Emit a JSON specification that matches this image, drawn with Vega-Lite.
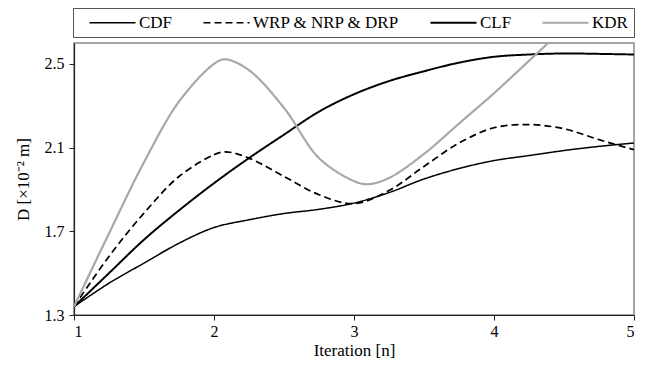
{
  "$schema": "https://vega.github.io/schema/vega-lite/v6.json",
  "width": 560,
  "height": 272,
  "autosize": {"type": "none"},
  "padding": {"left": 74, "top": 43, "right": 11, "bottom": 50},
  "background": "white",
  "config": {
    "view": {"stroke": "#888888", "strokeWidth": 1.5},
    "font": "Liberation Serif",
    "axis": {"labelFont": "Liberation Serif", "titleFont": "Liberation Serif", "labelColor": "black", "titleColor": "black", "labelFontSize": 16, "titleFontSize": 17, "titleFontWeight": "normal", "grid": false, "domainColor": "#222222", "tickColor": "#222222", "tickSize": 5, "domainWidth": 1.2},
    "legend": {"orient": "none", "legendX": -1, "legendY": -35, "direction": "horizontal", "symbolType": "M1,0H24", "symbolSize": 16, "labelFont": "Liberation Serif", "labelFontSize": 17, "labelColor": "black", "strokeColor": "#555555", "padding": 6, "columnPadding": 20, "labelOffset": 43}
  },
  "data": {
    "values": [
      {"series": "CDF", "n": 1.0, "D": 1.34},
      {"series": "CDF", "n": 1.25, "D": 1.452},
      {"series": "CDF", "n": 1.5, "D": 1.548},
      {"series": "CDF", "n": 1.75, "D": 1.643},
      {"series": "CDF", "n": 2.0, "D": 1.718},
      {"series": "CDF", "n": 2.25, "D": 1.755},
      {"series": "CDF", "n": 2.5, "D": 1.785},
      {"series": "CDF", "n": 2.75, "D": 1.805},
      {"series": "CDF", "n": 3.0, "D": 1.835},
      {"series": "CDF", "n": 3.25, "D": 1.885},
      {"series": "CDF", "n": 3.5, "D": 1.95},
      {"series": "CDF", "n": 3.75, "D": 2.0},
      {"series": "CDF", "n": 4.0, "D": 2.038},
      {"series": "CDF", "n": 4.25, "D": 2.062},
      {"series": "CDF", "n": 4.5, "D": 2.086},
      {"series": "CDF", "n": 4.75, "D": 2.106},
      {"series": "CDF", "n": 5.0, "D": 2.122},
      {"series": "WRP & NRP & DRP", "n": 1.0, "D": 1.34},
      {"series": "WRP & NRP & DRP", "n": 1.25, "D": 1.58},
      {"series": "WRP & NRP & DRP", "n": 1.5, "D": 1.787},
      {"series": "WRP & NRP & DRP", "n": 1.75, "D": 1.962},
      {"series": "WRP & NRP & DRP", "n": 2.0, "D": 2.066},
      {"series": "WRP & NRP & DRP", "n": 2.08, "D": 2.08},
      {"series": "WRP & NRP & DRP", "n": 2.25, "D": 2.05},
      {"series": "WRP & NRP & DRP", "n": 2.5, "D": 1.962},
      {"series": "WRP & NRP & DRP", "n": 2.75, "D": 1.875},
      {"series": "WRP & NRP & DRP", "n": 3.0, "D": 1.832},
      {"series": "WRP & NRP & DRP", "n": 3.25, "D": 1.895},
      {"series": "WRP & NRP & DRP", "n": 3.5, "D": 2.01},
      {"series": "WRP & NRP & DRP", "n": 3.75, "D": 2.122},
      {"series": "WRP & NRP & DRP", "n": 4.0, "D": 2.195},
      {"series": "WRP & NRP & DRP", "n": 4.25, "D": 2.21},
      {"series": "WRP & NRP & DRP", "n": 4.5, "D": 2.19},
      {"series": "WRP & NRP & DRP", "n": 4.75, "D": 2.138},
      {"series": "WRP & NRP & DRP", "n": 5.0, "D": 2.09},
      {"series": "CLF", "n": 1.0, "D": 1.34},
      {"series": "CLF", "n": 1.25, "D": 1.5},
      {"series": "CLF", "n": 1.5, "D": 1.66},
      {"series": "CLF", "n": 1.75, "D": 1.8},
      {"series": "CLF", "n": 2.0, "D": 1.93},
      {"series": "CLF", "n": 2.25, "D": 2.05},
      {"series": "CLF", "n": 2.5, "D": 2.162},
      {"series": "CLF", "n": 2.75, "D": 2.272},
      {"series": "CLF", "n": 3.0, "D": 2.355},
      {"series": "CLF", "n": 3.25, "D": 2.418},
      {"series": "CLF", "n": 3.5, "D": 2.465},
      {"series": "CLF", "n": 3.75, "D": 2.506},
      {"series": "CLF", "n": 4.0, "D": 2.534},
      {"series": "CLF", "n": 4.25, "D": 2.545},
      {"series": "CLF", "n": 4.5, "D": 2.55},
      {"series": "CLF", "n": 4.75, "D": 2.548},
      {"series": "CLF", "n": 5.0, "D": 2.545},
      {"series": "KDR", "n": 1.0, "D": 1.34},
      {"series": "KDR", "n": 1.25, "D": 1.69},
      {"series": "KDR", "n": 1.5, "D": 2.03},
      {"series": "KDR", "n": 1.75, "D": 2.32},
      {"series": "KDR", "n": 2.0, "D": 2.5},
      {"series": "KDR", "n": 2.08, "D": 2.522},
      {"series": "KDR", "n": 2.25, "D": 2.47},
      {"series": "KDR", "n": 2.5, "D": 2.29},
      {"series": "KDR", "n": 2.75, "D": 2.05},
      {"series": "KDR", "n": 3.0, "D": 1.94},
      {"series": "KDR", "n": 3.1, "D": 1.925},
      {"series": "KDR", "n": 3.25, "D": 1.955},
      {"series": "KDR", "n": 3.5, "D": 2.07},
      {"series": "KDR", "n": 3.75, "D": 2.215},
      {"series": "KDR", "n": 4.0, "D": 2.36},
      {"series": "KDR", "n": 4.25, "D": 2.515},
      {"series": "KDR", "n": 4.5, "D": 2.67}
    ]
  },
  "mark": {"type": "line", "interpolate": "catmull-rom", "clip": true},
  "encoding": {
    "x": {"field": "n", "type": "quantitative", "scale": {"domain": [1, 5], "nice": false}, "axis": {"values": [1, 2, 3, 4, 5], "format": "d", "title": "Iteration [n]", "labelPadding": 3, "titlePadding": 3}},
    "y": {"field": "D", "type": "quantitative", "scale": {"domain": [1.3, 2.6], "nice": false, "zero": false}, "axis": {"values": [1.3, 1.7, 2.1, 2.5], "format": ".1f", "title": "D [×10⁻² m]", "labelPadding": 5, "titlePadding": 12}},
    "color": {"field": "series", "type": "nominal", "scale": {"domain": ["CDF", "WRP & NRP & DRP", "CLF", "KDR"], "range": ["#000000", "#000000", "#000000", "#a8a8a8"]}, "legend": {"title": null}},
    "strokeDash": {"field": "series", "type": "nominal", "scale": {"domain": ["CDF", "WRP & NRP & DRP", "CLF", "KDR"], "range": [[1, 0], [7, 4], [1, 0], [1, 0]]}, "legend": {"title": null}},
    "strokeWidth": {"field": "series", "type": "nominal", "scale": {"domain": ["CDF", "WRP & NRP & DRP", "CLF", "KDR"], "range": [1.5, 2.2, 4.5, 4.5]}, "legend": {"title": null}}
  }
}
